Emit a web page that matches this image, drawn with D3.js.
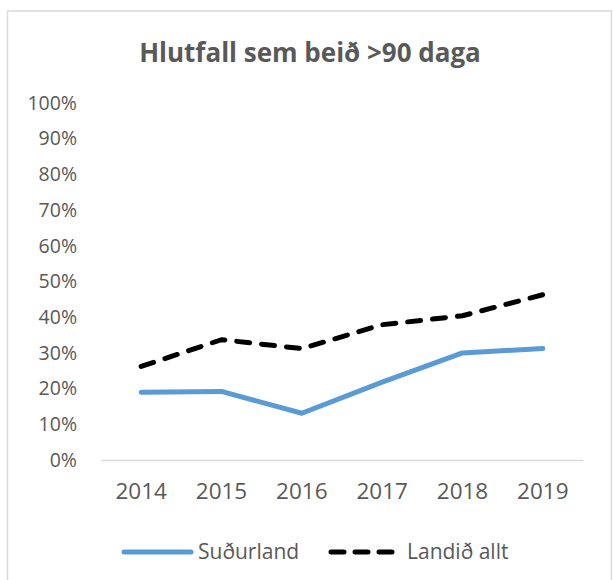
<!DOCTYPE html>
<html lang="is">
<head>
<meta charset="UTF-8">
<script src="https://d3js.org/d3.v7.min.js"></script>
<style>
  body { margin: 0; background: #fff; }
  text { font-family: "Open Sans", "Liberation Sans", sans-serif; fill: #595959; }
</style>
</head>
<body>
<div id="chart"></div>
<script>
const years = ["2014", "2015", "2016", "2017", "2018", "2019"];
const sudurland = [0.19, 0.192, 0.131, 0.218, 0.30, 0.312];
const landid = [0.262, 0.337, 0.312, 0.379, 0.404, 0.463];
const yTicks = [0, 0.1, 0.2, 0.3, 0.4, 0.5, 0.6, 0.7, 0.8, 0.9, 1];
const seriesNames = ["Suðurland", "Landið allt"];

var width = 613, height = 580;
var svg = d3.select("#chart").append("svg")
    .attr("width", width).attr("height", height);

// outer frame (bottom edge falls outside the picture)
svg.append("rect")
    .attr("x", 7.5).attr("y", 11).attr("width", 604).attr("height", 580)
    .attr("fill", "#fff").attr("stroke", "#d9d9d9").attr("stroke-width", 1.5);

var x = d3.scaleBand().domain(years).range([101, 583]);
var y = d3.scaleLinear().domain([0, 1]).range([460, 103]);

svg.append("text")
    .attr("x", 310).attr("y", 62)
    .attr("text-anchor", "middle")
    .attr("font-size", "26px").attr("font-weight", "bold")
    .text("Hlutfall sem beið >90 daga");

// y axis labels
var yAxis = svg.append("g")
    .attr("transform", "translate(84,0)")
    .call(d3.axisLeft(y).tickValues(yTicks).tickFormat(d3.format(".0%")).tickSize(0).tickPadding(7));
yAxis.select(".domain").remove();
yAxis.selectAll("text").attr("font-size", "19.5px").attr("fill", "#595959").attr("font-family", null);

// x axis
var xAxis = svg.append("g")
    .attr("transform", "translate(0,460)")
    .call(d3.axisBottom(x).tickSize(0).tickPadding(23));
xAxis.select(".domain").attr("stroke", "#d9d9d9").attr("stroke-width", 1.5);
xAxis.selectAll("text").attr("font-size", "22.5px").attr("fill", "#595959").attr("font-family", null);

var line = d3.line()
    .x(function(d, i) { return x(years[i]) + x.bandwidth() / 2; })
    .y(function(d) { return y(d); });

svg.append("path")
    .datum(sudurland)
    .attr("d", line)
    .attr("fill", "none")
    .attr("stroke", "#5b9bd5")
    .attr("stroke-width", 5)
    .attr("stroke-linejoin", "round")
    .attr("stroke-linecap", "round");

svg.append("path")
    .datum(landid)
    .attr("d", line)
    .attr("fill", "none")
    .attr("stroke", "#000")
    .attr("stroke-width", 5)
    .attr("stroke-dasharray", "13,12")
    .attr("stroke-linecap", "round");

// legend
var lg = svg.append("g");
lg.append("line").attr("x1", 124).attr("x2", 191).attr("y1", 552).attr("y2", 552)
    .attr("stroke", "#5b9bd5").attr("stroke-width", 5).attr("stroke-linecap", "round");
lg.append("text").attr("x", 198).attr("y", 559).attr("font-size", "21px").text(seriesNames[0]);
lg.append("line").attr("x1", 331).attr("x2", 392).attr("y1", 552).attr("y2", 552)
    .attr("stroke", "#000").attr("stroke-width", 5)
    .attr("stroke-dasharray", "13,11").attr("stroke-linecap", "round");
lg.append("text").attr("x", 407).attr("y", 559).attr("font-size", "21px").text(seriesNames[1]);
</script>
</body>
</html>
